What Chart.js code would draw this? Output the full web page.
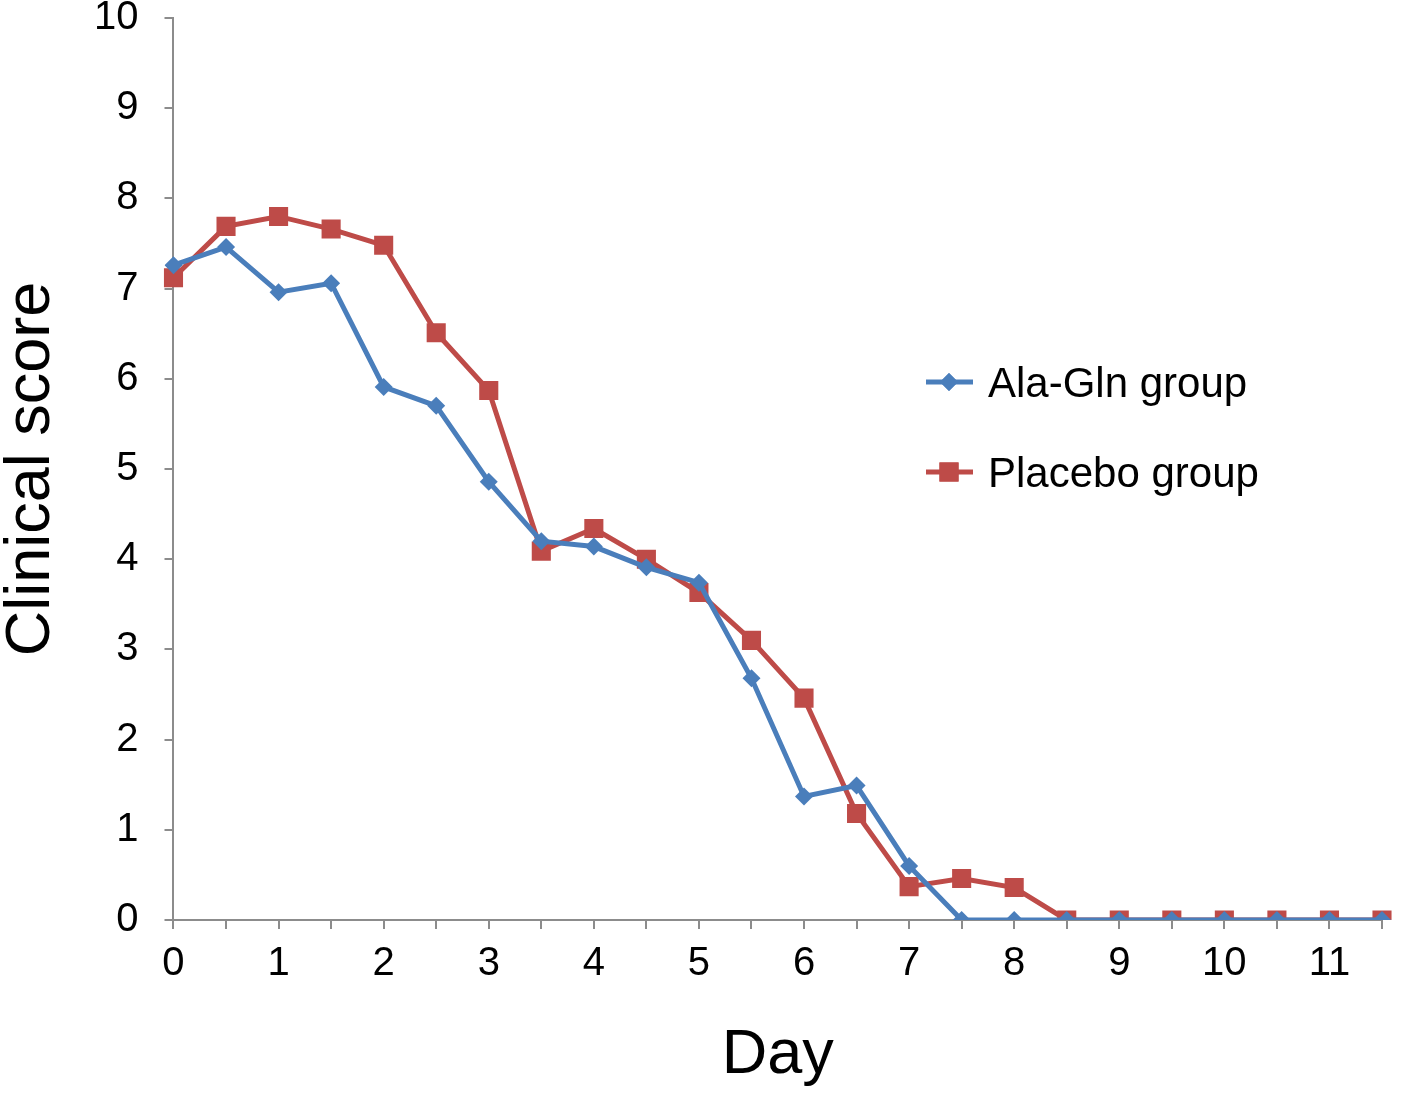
<!DOCTYPE html>
<html>
<head>
<meta charset="utf-8">
<script src="https://cdn.jsdelivr.net/npm/chart.js@4.4.0/dist/chart.umd.min.js"></script>
<style>
  html, body { margin: 0; padding: 0; background: #fff; }
  #chart { display: block; }
</style>
</head>
<body>
<canvas id="chart" width="1401" height="1093"></canvas>
<script>
const days = [0, 0.5, 1, 1.5, 2, 2.5, 3, 3.5, 4, 4.5, 5, 5.5, 6, 6.5, 7, 7.5, 8, 8.5, 9, 9.5, 10, 10.5, 11, 11.5];

const alaGln = [7.26, 7.46, 6.96, 7.06, 5.91, 5.70, 4.86, 4.20, 4.14, 3.91, 3.74, 2.68, 1.37, 1.49, 0.60, 0, 0, 0, 0, 0, 0, 0, 0, 0];
const placebo = [7.12, 7.69, 7.80, 7.66, 7.48, 6.51, 5.87, 4.09, 4.34, 4.00, 3.63, 3.10, 2.46, 1.18, 0.37, 0.46, 0.36, 0, 0, 0, 0, 0, 0, 0];

const seriesNames = ["Ala-Gln group", "Placebo group"];
const yTicks = [0, 1, 2, 3, 4, 5, 6, 7, 8, 9, 10];

const BLUE = "#4A7EBB";
const RED = "#BE4B48";
const AXIS = "#8c8c8c";
const FONT = "'Liberation Sans', Arial, sans-serif";

// legend drawn inside the plot, like the Excel original
const sideLegend = {
  id: "sideLegend",
  afterDraw(chart) {
    const ctx = chart.ctx;
    const rows = [382, 472];
    chart.data.datasets.forEach((ds, i) => {
      const y = rows[i];
      ctx.save();
      ctx.strokeStyle = ds.borderColor;
      ctx.lineWidth = ds.borderWidth;
      ctx.beginPath();
      ctx.moveTo(926, y);
      ctx.lineTo(973, y);
      ctx.stroke();
      ctx.fillStyle = ds.backgroundColor;
      ctx.beginPath();
      Chart.helpers.drawPoint(ctx, { pointStyle: ds.pointStyle, radius: ds.pointRadius, rotation: 0, borderWidth: 0 }, 949, y);
      ctx.fill();
      ctx.fillStyle = "#000";
      ctx.font = "42px " + FONT;
      ctx.textBaseline = "middle";
      ctx.fillText(ds.label, 988, y + 3);
      ctx.restore();
    });
  },
};

new Chart(document.getElementById("chart"), {
  type: "line",
  data: {
    labels: days,
    datasets: [
      {
        label: seriesNames[0],
        data: alaGln,
        borderColor: BLUE,
        backgroundColor: BLUE,
        borderWidth: 5,
        pointStyle: "rectRot",
        pointRadius: 9,
        pointBorderWidth: 0,
        tension: 0,
      },
      {
        label: seriesNames[1],
        data: placebo,
        borderColor: RED,
        backgroundColor: RED,
        borderWidth: 5,
        pointStyle: "rect",
        pointRadius: 13.5,
        pointBorderWidth: 0,
        tension: 0,
      },
    ],
  },
  options: {
    responsive: false,
    animation: false,
    layout: { autoPadding: false, padding: { left: 0, right: 19, top: 0, bottom: 6 } },
    plugins: {
      legend: { display: false },
      tooltip: { enabled: false },
    },
    scales: {
      x: {
        type: "category",
        offset: false,
        grid: {
          display: true,
          drawOnChartArea: false,
          drawTicks: true,
          tickLength: 9,
          color: AXIS,
          lineWidth: 2,
        },
        border: { color: AXIS, width: 2 },
        ticks: {
          color: "#000",
          font: { family: FONT, size: 40, lineHeight: 1 },
          padding: 15,
          maxRotation: 0,
          autoSkip: false,
          callback: function (val, idx) {
            const d = days[idx];
            return Number.isInteger(d) ? String(d) : "";
          },
        },
        title: {
          display: true,
          text: "Day",
          color: "#000",
          font: { family: FONT, size: 63, lineHeight: 1 },
          padding: { top: 25, bottom: 0 },
        },
      },
      y: {
        min: 0,
        max: 10,
        afterBuildTicks: (axis) => {
          axis.ticks = yTicks.map((v) => ({ value: v }));
        },
        afterFit: (axis) => {
          axis.paddingTop = 18;
          axis.paddingBottom = 0;
        },
        grid: {
          display: true,
          drawOnChartArea: false,
          drawTicks: true,
          tickLength: 9,
          color: AXIS,
          lineWidth: 2,
        },
        border: { color: AXIS, width: 2 },
        ticks: {
          color: "#000",
          font: { family: FONT, size: 40, lineHeight: 1 },
          padding: 26,
        },
        title: {
          display: true,
          text: "Clinical score",
          color: "#000",
          font: { family: FONT, size: 63, lineHeight: 1 },
          padding: { top: 0, bottom: 5 },
        },
      },
    },
  },
  plugins: [sideLegend],
});
</script>
</body>
</html>
